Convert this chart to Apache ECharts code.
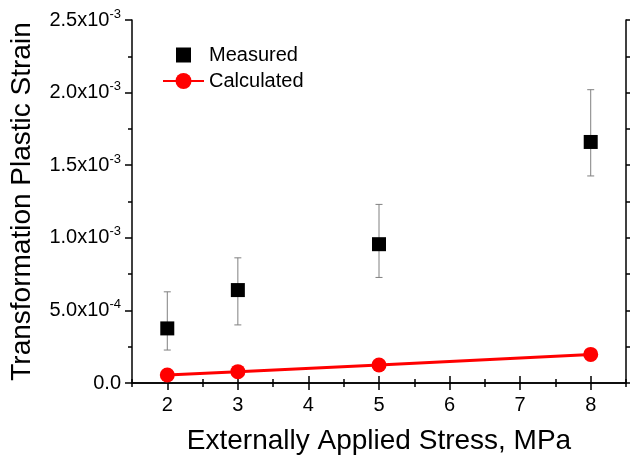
<!DOCTYPE html>
<html>
<head>
<meta charset="utf-8">
<script src="https://cdn.jsdelivr.net/npm/echarts@6/dist/echarts.min.js"></script>
<style>
  html, body { margin: 0; padding: 0; background: #fff; }
  #chart { width: 630px; height: 461px; }
</style>
</head>
<body>
<div id="chart"></div>
<script>
// stress, MPa
const stress = [2, 3, 5, 8]
// measured strain with error bar limits
const measured = [0.000376, 0.00064, 0.000956, 0.00166]
const measuredHigh = [0.000628, 0.000862, 0.00123, 0.00202]
const measuredLow = [0.000227, 0.0004, 0.000727, 0.001426]
// calculated strain
const calculated = [0.000055, 0.000078, 0.000124, 0.000197]
// x tick labels
const xLabels = [2, 3, 4, 5, 6, 7, 8]

const font = 'Liberation Sans, Arial, sans-serif'

const chart = echarts.init(document.getElementById('chart'))

// 0.0005 -> 5.0x10^-4
const sciLabel = v => {
  if (Math.abs(v) < 1e-12) return '{m|0.0}'
  const parts = v.toExponential(1).split('e')
  return '{m|' + parts[0] + 'x10}{e|' + parseInt(parts[1], 10) + '}'
}

const errData = stress.map((x, i) => [x, measuredLow[i], measuredHigh[i]])

// min 1.5, interval 1 -> ticks land on the halves (short), minor ticks on integers (long)
const xBase = {
  type: 'value', min: 1.5, max: 8.5, interval: 1,
  axisLine: { show: true, lineStyle: { color: '#000', width: 1.5 } },
  axisTick: { show: true, inside: false, length: 4, lineStyle: { color: '#000', width: 1.5 } },
  minorTick: { show: true, splitNumber: 2, length: 7, lineStyle: { color: '#000', width: 1.5 } },
  splitLine: { show: false }
}
const yBase = {
  type: 'value', min: 0, max: 0.0025, interval: 0.0005,
  axisLine: { show: true, lineStyle: { color: '#000', width: 1.5 } },
  axisTick: { show: true, inside: false, length: 7, lineStyle: { color: '#000', width: 1.5 } },
  minorTick: { show: true, splitNumber: 2, length: 4, lineStyle: { color: '#000', width: 1.5 } },
  splitLine: { show: false }
}

chart.setOption({
  animation: false,
  textStyle: { fontFamily: font },
  grid: { left: 132, right: 4, top: 20, bottom: 78, outerBoundsMode: 'none' },
  legend: {
    orient: 'vertical',
    left: 157,
    top: 40,
    itemWidth: 41,
    itemHeight: 20,
    itemGap: 6,
    textStyle: { fontSize: 20, color: '#000', fontFamily: font },
    data: [
      // square 15px inside a 20px box
      { name: 'Measured', icon: 'path://M0 0L0 0M20 20L20 20M2.5 2.5H17.5V17.5H2.5Z' },
      { name: 'Calculated' }
    ]
  },
  xAxis: [
    Object.assign({}, xBase, {
      position: 'bottom',
      name: 'Externally Applied Stress, MPa',
      nameLocation: 'middle',
      nameGap: 44,
      nameTextStyle: { fontSize: 28, color: '#000', fontFamily: font },
      axisLabel: { fontSize: 20, color: '#000', margin: 12, customValues: xLabels }
    }),
    Object.assign({}, xBase, { position: 'top', axisLabel: { show: false } })
  ],
  yAxis: [
    Object.assign({}, yBase, {
      position: 'left',
      name: 'Transformation Plastic Strain',
      nameLocation: 'middle',
      nameGap: 96,
      nameTextStyle: { fontSize: 28, color: '#000', fontFamily: font },
      axisLabel: {
        color: '#000', margin: 11, fontSize: 20,
        formatter: sciLabel,
        rich: {
          m: { fontSize: 20, color: '#000', fontFamily: font },
          e: { fontSize: 13, color: '#000', fontFamily: font, verticalAlign: 'top', padding: [0, 0, 12, 0] }
        }
      }
    }),
    Object.assign({}, yBase, { position: 'right', axisLabel: { show: false } })
  ],
  series: [
    {
      name: 'errorbars',
      type: 'custom',
      data: errData,
      z: 1,
      renderItem: (params, api) => {
        const lo = api.coord([api.value(0), api.value(1)])
        const hi = api.coord([api.value(0), api.value(2)])
        const cap = 3.5
        const style = { stroke: '#808080', lineWidth: 1 }
        return {
          type: 'group',
          children: [
            { type: 'line', shape: { x1: lo[0], y1: lo[1], x2: hi[0], y2: hi[1] }, style },
            { type: 'line', shape: { x1: lo[0] - cap, y1: lo[1], x2: lo[0] + cap, y2: lo[1] }, style },
            { type: 'line', shape: { x1: hi[0] - cap, y1: hi[1], x2: hi[0] + cap, y2: hi[1] }, style }
          ]
        }
      }
    },
    {
      name: 'Measured',
      type: 'scatter',
      symbol: 'rect',
      symbolSize: 14,
      itemStyle: { color: '#000', opacity: 1 },
      z: 3,
      data: stress.map((x, i) => [x, measured[i]])
    },
    {
      name: 'Calculated',
      type: 'line',
      symbol: 'circle',
      symbolSize: 15,
      lineStyle: { color: '#ff0000', width: 3 },
      itemStyle: { color: '#ff0000' },
      z: 2,
      data: stress.map((x, i) => [x, calculated[i]])
    }
  ]
})
</script>
</body>
</html>
